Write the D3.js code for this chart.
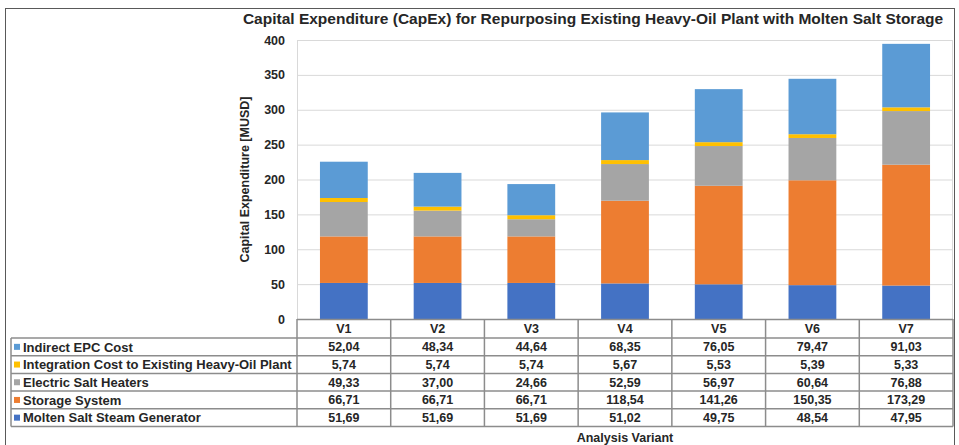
<!DOCTYPE html>
<html>
<head>
<meta charset="utf-8">
<script src="https://cdn.jsdelivr.net/npm/d3@7"></script>
<style>
  html, body { margin: 0; padding: 0; background: #fff; }
  svg { display: block; font-family: Arial, "Liberation Sans", sans-serif; }
</style>
</head>
<body>
<svg id="chart" width="959" height="445"></svg>
<script>
const categories = ["V1", "V2", "V3", "V4", "V5", "V6", "V7"];
const seriesNames = [
  "Molten Salt Steam Generator",
  "Storage System",
  "Electric Salt Heaters",
  "Integration Cost to Existing Heavy-Oil Plant",
  "Indirect EPC Cost"
];
const seriesColors = ["#4472C4", "#ED7D31", "#A5A5A5", "#FFC000", "#5B9BD5"];
const moltenSaltSG = [51.69, 51.69, 51.69, 51.02, 49.75, 48.54, 47.95];
const storageSystem = [66.71, 66.71, 66.71, 118.54, 141.26, 150.35, 173.29];
const electricHeaters = [49.33, 37.00, 24.66, 52.59, 56.97, 60.64, 76.88];
const integrationCost = [5.74, 5.74, 5.74, 5.67, 5.53, 5.39, 5.33];
const indirectEPC = [52.04, 48.34, 44.64, 68.35, 76.05, 79.47, 91.03];
const yTicks = [0, 50, 100, 150, 200, 250, 300, 350, 400];
const titleText = "Capital Expenditure (CapEx) for Repurposing Existing Heavy-Oil Plant with Molten Salt Storage";
const yTitle = "Capital Expenditure [MUSD]";
const xTitle = "Analysis Variant";

const seriesValues = [moltenSaltSG, storageSystem, electricHeaters, integrationCost, indirectEPC];

const svg = d3.select("#chart");
const ink = "#262626";

// outer frame
svg.append("rect").attr("x", 5.5).attr("y", 8.5).attr("width", 949).attr("height", 445)
  .attr("fill", "none").attr("stroke", "#595959").attr("stroke-width", 1);

const plotL = 297, plotR = 953, plotT = 40, plotB = 319;

const x = d3.scaleBand().domain(categories).range([plotL, plotR]).paddingInner(0.49).paddingOuter(0.245);
const xCol = d3.scaleBand().domain(categories).range([plotL, plotR]);
const y = d3.scaleLinear().domain([0, 400]).range([plotB, plotT]);

// gridlines
svg.append("g").selectAll("line").data(yTicks.filter(d => d > 0)).join("line")
  .attr("x1", plotL).attr("x2", plotR)
  .attr("y1", d => y(d) + 0.5).attr("y2", d => y(d) + 0.5)
  .attr("stroke", "#d9d9d9").attr("stroke-width", 1);

// plot border (light)
svg.append("line").attr("x1", plotL + 0.5).attr("x2", plotL + 0.5).attr("y1", plotT).attr("y2", plotB)
  .attr("stroke", "#d9d9d9");
svg.append("line").attr("x1", plotR - 0.5).attr("x2", plotR - 0.5).attr("y1", plotT).attr("y2", plotB)
  .attr("stroke", "#d9d9d9");

// stacked data
const tableData = categories.map((c, i) => {
  const o = { cat: c };
  seriesNames.forEach((s, j) => { o[s] = seriesValues[j][i]; });
  return o;
});
const stack = d3.stack().keys(seriesNames)(tableData);

svg.append("g").selectAll("g").data(stack).join("g")
  .attr("fill", (d, i) => seriesColors[i])
  .selectAll("rect").data(d => d).join("rect")
  .attr("x", d => x(d.data.cat))
  .attr("width", x.bandwidth())
  .attr("y", d => y(d[1]))
  .attr("height", d => y(d[0]) - y(d[1]));

// y axis tick labels
const yAxis = d3.axisLeft(y).tickValues(yTicks).tickSize(0).tickPadding(12);
const gy = svg.append("g").attr("transform", `translate(${plotL},0)`).call(yAxis);
gy.select(".domain").remove();
gy.selectAll("text").attr("font-size", 12.5).attr("font-weight", "bold").attr("fill", ink)
  .attr("font-family", "Arial, 'Liberation Sans', sans-serif");

// zero axis line
svg.append("line").attr("x1", plotL).attr("x2", plotR).attr("y1", plotB + 0.5).attr("y2", plotB + 0.5)
  .attr("stroke", "#8c8c8c").attr("stroke-width", 1.5);

// title
svg.append("text").attr("x", 593).attr("y", 24).attr("text-anchor", "middle")
  .attr("font-size", 15.5).attr("font-weight", "bold").attr("fill", ink).text(titleText);

// y title
svg.append("text").attr("transform", `translate(249,${(plotT + plotB) / 2}) rotate(-90)`)
  .attr("text-anchor", "middle").attr("font-size", 12.5).attr("font-weight", "bold")
  .attr("fill", ink).text(yTitle);

// data table
const rowH = 17.7;
const headerTop = plotB, headerBot = 338;
const tableLeft = 11;
const rowsOrder = [4, 3, 2, 1, 0];
const tableBot = headerBot + rowH * rowsOrder.length;
const tg = svg.append("g");
const lineColor = "#8c8c8c";

// header row
categories.forEach(c => {
  tg.append("text").attr("x", xCol(c) + xCol.bandwidth() / 2).attr("y", (headerTop + headerBot) / 2 + 4.5)
    .attr("text-anchor", "middle").attr("font-size", 12.5).attr("font-weight", "bold").attr("fill", ink).text(c);
});

// horizontal lines
tg.append("line").attr("x1", tableLeft).attr("x2", plotR).attr("y1", headerBot).attr("y2", headerBot)
  .attr("stroke", lineColor).attr("stroke-width", 1.5);
rowsOrder.forEach((si, r) => {
  const yy = headerBot + rowH * (r + 1);
  tg.append("line").attr("x1", tableLeft).attr("x2", plotR).attr("y1", yy).attr("y2", yy)
    .attr("stroke", lineColor).attr("stroke-width", 1.5);
  const cy = headerBot + rowH * r + rowH / 2;
  tg.append("rect").attr("x", 14).attr("y", cy - 3).attr("width", 6).attr("height", 6).attr("fill", seriesColors[si]);
  tg.append("text").attr("x", 23).attr("y", cy + 4.7).attr("font-size", 13).attr("font-weight", "bold")
    .attr("fill", ink).text(seriesNames[si]);
  categories.forEach((c, i) => {
    tg.append("text").attr("x", xCol(c) + xCol.bandwidth() / 2).attr("y", cy + 4.5)
      .attr("text-anchor", "middle").attr("font-size", 12.5).attr("font-weight", "bold").attr("fill", ink)
      .text(d3.format(".2f")(seriesValues[si][i]).replace(".", ","));
  });
});

// vertical lines
tg.append("line").attr("x1", tableLeft).attr("x2", tableLeft).attr("y1", headerBot).attr("y2", tableBot)
  .attr("stroke", lineColor).attr("stroke-width", 1.5);
categories.forEach(c => {
  tg.append("line").attr("x1", xCol(c)).attr("x2", xCol(c)).attr("y1", headerTop).attr("y2", tableBot)
    .attr("stroke", lineColor).attr("stroke-width", 1.5);
});
tg.append("line").attr("x1", plotR).attr("x2", plotR).attr("y1", headerTop).attr("y2", tableBot)
  .attr("stroke", lineColor).attr("stroke-width", 1.5);

// x title
svg.append("text").attr("x", 625).attr("y", 442).attr("text-anchor", "middle")
  .attr("font-size", 12.5).attr("font-weight", "bold").attr("fill", ink).text(xTitle);
</script>
</body>
</html>
